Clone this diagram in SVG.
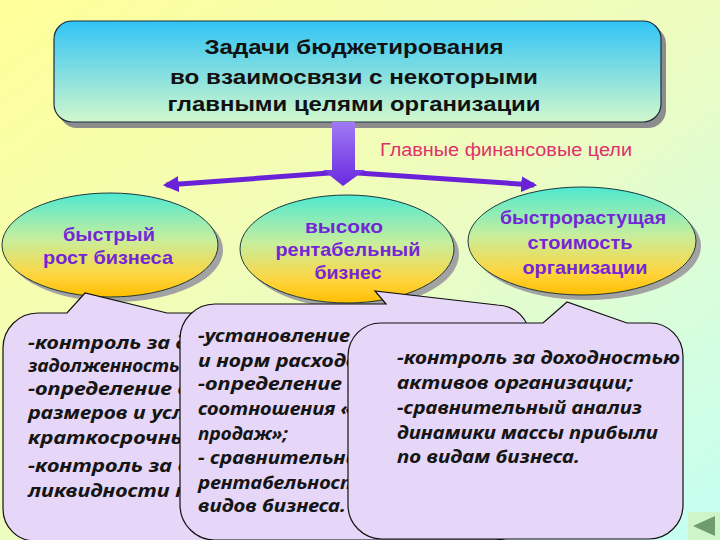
<svg xmlns="http://www.w3.org/2000/svg" width="720" height="540" viewBox="0 0 720 540">
<defs>
<linearGradient id="bg" x1="0" y1="0" x2="1" y2="1">
<stop offset="0" stop-color="#ffff99"/>
<stop offset="0.5" stop-color="#eefcc0"/>
<stop offset="1" stop-color="#c4fff4"/>
</linearGradient>
<linearGradient id="boxg" x1="0" y1="0" x2="0" y2="1">
<stop offset="0" stop-color="#30c4f6"/>
<stop offset="1" stop-color="#d2f7cc"/>
</linearGradient>
<linearGradient id="ellg" x1="0" y1="0" x2="0" y2="1">
<stop offset="0" stop-color="#4ee8d2"/>
<stop offset="0.45" stop-color="#c8ee9c"/>
<stop offset="0.8" stop-color="#ffd43c"/>
<stop offset="1" stop-color="#ffbe00"/>
</linearGradient>
<linearGradient id="arrg" x1="0" y1="0" x2="0" y2="1">
<stop offset="0" stop-color="#a07af4"/>
<stop offset="1" stop-color="#6a2ae0"/>
</linearGradient>
<marker id="ah" viewBox="0 0 10 10" refX="8" refY="5" markerWidth="3.2" markerHeight="3.2" orient="auto" markerUnits="strokeWidth">
<path d="M0,0 L10,5 L0,10 Z" fill="#6a22d8"/>
</marker>
<style>
.title{font-family:"Liberation Sans",Arial,sans-serif;font-weight:bold;font-size:20px;fill:#111;text-anchor:middle}
.goal{font-family:"Liberation Sans",Arial,sans-serif;font-weight:bold;font-size:19px;fill:#7426d6;text-anchor:middle}
.ell{fill:url(#ellg);stroke:#1d3b3b;stroke-width:1}
.shd{fill:#a2a2a2}
.bub{fill:#e6d6f7;stroke:#111;stroke-width:1.2}
.bt{font-family:"Noto Sans","Open Sans","Liberation Sans",sans-serif;font-weight:bold;font-style:italic;font-size:17px;fill:#151515}
.lab{font-family:"Liberation Sans",Arial,sans-serif;font-size:18px;fill:#e0306c}
.conn{stroke:#6a22d8;stroke-width:5;fill:none;marker-end:url(#ah)}
</style>
</defs>
<rect x="0" y="0" width="720" height="540" fill="url(#bg)"/>

<g id="title-box">
<rect x="59" y="26" width="607" height="102" rx="18" fill="#8c8c8c"/>
<rect x="54" y="21" width="607" height="101" rx="18" fill="url(#boxg)" stroke="#1e2e40" stroke-width="1.2"/>
<text class="title" x="354" y="54" textLength="299" lengthAdjust="spacingAndGlyphs">Задачи бюджетирования</text>
<text class="title" x="354" y="84" textLength="368" lengthAdjust="spacingAndGlyphs">во взаимосвязи с некоторыми</text>
<text class="title" x="354" y="111" textLength="373" lengthAdjust="spacingAndGlyphs">главными целями организации</text>
</g>

<g id="connectors">
<line class="conn" x1="343" y1="172" x2="166" y2="185"/>
<line class="conn" x1="343" y1="172" x2="534" y2="185"/>
<polygon points="332,122 355,122 355,170 365,170 343,186 323,170 332,170" fill="url(#arrg)"/>
<text class="lab" x="380" y="156" textLength="252" lengthAdjust="spacingAndGlyphs">Главные финансовые цели</text>
</g>

<g id="goal-1">
<ellipse class="shd" cx="115" cy="250" rx="108" ry="52"/>
<ellipse class="ell" cx="110" cy="245" rx="108" ry="52"/>
<text class="goal" x="109" y="241" textLength="92" lengthAdjust="spacingAndGlyphs">быстрый</text>
<text class="goal" x="108" y="264" textLength="130" lengthAdjust="spacingAndGlyphs">рост бизнеса</text>
</g>

<g id="goal-2">
<ellipse class="shd" cx="352" cy="254" rx="107" ry="54"/>
<ellipse class="ell" cx="347" cy="249" rx="107" ry="54"/>
<text class="goal" x="344" y="233" textLength="78" lengthAdjust="spacingAndGlyphs">высоко</text>
<text class="goal" x="348" y="256" textLength="145" lengthAdjust="spacingAndGlyphs">рентабельный</text>
<text class="goal" x="348" y="279" textLength="67" lengthAdjust="spacingAndGlyphs">бизнес</text>
</g>

<g id="goal-3">
<ellipse class="shd" cx="587" cy="246" rx="114" ry="54"/>
<ellipse class="ell" cx="582" cy="241" rx="114" ry="54"/>
<text class="goal" x="583" y="224" textLength="166" lengthAdjust="spacingAndGlyphs">быстрорастущая</text>
<text class="goal" x="580" y="249" textLength="105" lengthAdjust="spacingAndGlyphs">стоимость</text>
<text class="goal" x="585" y="274" textLength="125" lengthAdjust="spacingAndGlyphs">организации</text>
</g>

<g id="tasks-1">
<path class="bub" d="M3,348 A35,35 0 0 1 38,313 L67,313 L85,293 L167,313 L360,313 L360,541 L35,541 A32,32 0 0 1 3,509 Z"/>
<text class="bt" x="28" y="349" textLength="160" lengthAdjust="spacingAndGlyphs">-контроль за д</text>
<text class="bt" x="28" y="372" textLength="167" lengthAdjust="spacingAndGlyphs">задолженностью</text>
<text class="bt" x="28" y="395" textLength="162" lengthAdjust="spacingAndGlyphs">-определение  о</text>
<text class="bt" x="28" y="419" textLength="157" lengthAdjust="spacingAndGlyphs">размеров и усл</text>
<text class="bt" x="28" y="444" textLength="160" lengthAdjust="spacingAndGlyphs">краткосрочны</text>
<text class="bt" x="28" y="472" textLength="160" lengthAdjust="spacingAndGlyphs">-контроль за с</text>
<text class="bt" x="28" y="497" textLength="160" lengthAdjust="spacingAndGlyphs">ликвидности п</text>
</g>

<g id="tasks-2">
<path class="bub" d="M180,339 A35,35 0 0 1 215,304 L386,304 L375,291 L497,305 A33,33 0 0 1 530,338 L530,505 A35,35 0 0 1 495,540 L215,540 A35,35 0 0 1 180,505 Z"/>
<text class="bt" x="198" y="342" textLength="152" lengthAdjust="spacingAndGlyphs">-установление</text>
<text class="bt" x="198" y="367" textLength="160" lengthAdjust="spacingAndGlyphs">и норм расходо</text>
<text class="bt" x="198" y="390" textLength="162" lengthAdjust="spacingAndGlyphs">-определение о</text>
<text class="bt" x="198" y="415" textLength="154" lengthAdjust="spacingAndGlyphs">соотношения «</text>
<text class="bt" x="198" y="440" textLength="90" lengthAdjust="spacingAndGlyphs">продаж»;</text>
<text class="bt" x="198" y="464" textLength="164" lengthAdjust="spacingAndGlyphs">- сравнительны</text>
<text class="bt" x="198" y="489" textLength="160" lengthAdjust="spacingAndGlyphs">рентабельност</text>
<text class="bt" x="198" y="512" textLength="148" lengthAdjust="spacingAndGlyphs">видов бизнеса.</text>
</g>

<g id="tasks-3">
<path class="bub" d="M348,356 A33,33 0 0 1 381,323 L543,323 L567,302 L627,323 L650,323 A33,33 0 0 1 683,356 L683,505 A34,34 0 0 1 649,539 L382,539 A34,34 0 0 1 348,505 Z"/>
<text class="bt" x="397" y="364" textLength="283" lengthAdjust="spacingAndGlyphs">-контроль за доходностью</text>
<text class="bt" x="397" y="389" textLength="236" lengthAdjust="spacingAndGlyphs">активов организации;</text>
<text class="bt" x="397" y="414" textLength="245" lengthAdjust="spacingAndGlyphs">-сравнительный анализ</text>
<text class="bt" x="397" y="439" textLength="261" lengthAdjust="spacingAndGlyphs">динамики массы прибыли</text>
<text class="bt" x="397" y="463" textLength="183" lengthAdjust="spacingAndGlyphs">по видам бизнеса.</text>
</g>

<g id="nav-button">
<rect x="688" y="512" width="32" height="28" fill="#cdf5c9"/>
<polygon points="693,526 715,516 715,536" fill="#6e9c70"/>
</g>
</svg>
